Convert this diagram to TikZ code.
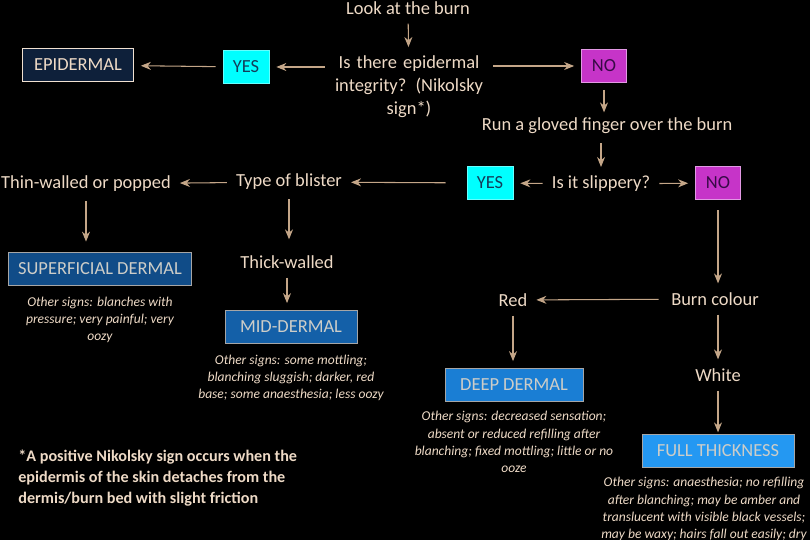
\documentclass[tikz,border=0pt]{standalone}
\usepackage{fontspec}
\setmainfont{Carlito}
\usepackage{tikz}
\usetikzlibrary{arrows.meta,positioning}
\definecolor{burnbg}{RGB}{0,0,0}
\definecolor{burntext}{RGB}{238,218,198}
\definecolor{burnarrow}{RGB}{196,166,136}
\definecolor{epifill}{RGB}{14,32,58}
\definecolor{yescyan}{RGB}{0,255,255}
\definecolor{yestext}{RGB}{20,60,90}
\definecolor{nomagenta}{RGB}{198,52,200}
\definecolor{notext}{RGB}{55,10,70}
\definecolor{superfill}{RGB}{16,76,136}
\definecolor{midfill}{RGB}{20,96,168}
\definecolor{deepfill}{RGB}{26,126,212}
\definecolor{fullfill}{RGB}{36,152,242}
\definecolor{boxtext}{RGB}{205,205,200}

\begin{document}
\begin{tikzpicture}[x=0.02cm, y=-0.02cm,
    step text/.style={text=burntext, font=\fontsize{10.5}{13}\selectfont, inner sep=1pt},
    signs/.style={text=burntext, font=\fontsize{7.7}{9.7}\selectfont\itshape, align=center},
    answer/.style={draw, minimum height=0.66cm, inner sep=2pt, font=\fontsize{10.5}{13}\selectfont},
    yesbox/.style={answer, fill=yescyan, draw=yescyan!60!white, text=yestext, minimum width=0.92cm},
    nobox/.style={answer, fill=nomagenta, draw=nomagenta!50!white, text=notext, minimum width=0.9cm},
    depth/.style={answer, draw=gray!70, text=boxtext},
    arrow/.style={-{Stealth[length=2mm, width=1.6mm]}, burnarrow, semithick, shorten <=4pt, shorten >=4pt}
]
\fill[burnbg] (0,0) rectangle (810,540);
\useasboundingbox (0,0) rectangle (810,540);

% First question
\node[step text] (look) at (408,8) {Look at the burn};
\node[step text, align=center, text width=3cm] (integrity) at (409,87) {Is there epidermal\\integrity? (Nikolsky\\sign*)};
\node[yesbox] (yes1) at (246,67) {YES};
\node[depth, fill=epifill, draw=burntext!80, text=burntext, minimum width=2.22cm] (epi) at (78,65) {EPIDERMAL};
\node[nobox] (no1) at (604,66) {NO};

\draw[arrow] (look) -- (integrity);
\draw[arrow] (integrity.west |- yes1) -- (yes1);
\draw[arrow] (yes1) -- (epi);
\draw[arrow] (integrity.east |- no1) -- (no1);

% Slippery test
\node[step text] (glove) at (607,126) {Run a gloved finger over the burn};
\node[step text] (slippery) at (601,184) {Is it slippery?};
\node[yesbox] (yes2) at (490,183) {YES};
\node[nobox] (no2) at (718,183) {NO};

\draw[arrow, shorten >=2pt] (no1) -- (no1 |- glove.north);
\draw[arrow] (glove.south -| slippery) -- (slippery);
\draw[arrow] (slippery) -- (yes2);
\draw[arrow] (slippery) -- (no2);

% Blister branch
\node[step text] (blister) at (289,182) {Type of blister};
\node[step text] (thin) at (86,184) {Thin-walled or popped};
\node[step text] (thick) at (287,262) {Thick-walled};
\node[depth, fill=superfill, minimum width=3.66cm] (superficial) at (100,269) {SUPERFICIAL DERMAL};
\node[depth, fill=midfill, minimum width=2.64cm] (mid) at (291,327) {MID-DERMAL};

\draw[arrow, shorten <=12pt] (yes2) -- (blister);
\draw[arrow] (blister) -- (thin);
\draw[arrow, shorten >=6pt] (thin) -- (thin |- superficial.north);
\draw[arrow, shorten >=8pt] (blister) -- (blister |- thick.north);
\draw[arrow] (thick) -- (thick |- mid.north);

\node[signs, below=3pt of superficial] (supersigns) {Other signs: blanches with\\pressure; very painful; very\\oozy};
\node[signs, below=3pt of mid] (midsigns) {Other signs: some mottling;\\blanching sluggish; darker, red\\base; some anaesthesia; less oozy};

% Colour branch
\node[step text] (colour) at (715,299) {Burn colour};
\node[step text] (red) at (513,300) {Red};
\node[step text] (white) at (718,375) {White};
\node[depth, fill=deepfill, minimum width=2.76cm] (deep) at (514,385) {DEEP DERMAL};
\node[depth, fill=fullfill, minimum width=3.04cm] (full) at (718,451) {FULL THICKNESS};

\draw[arrow, shorten <=6pt] (no2) -- (no2 |- colour.north);
\draw[arrow, shorten <=6pt] (colour) -- (red);
\draw[arrow] (red) -- (red |- deep.north);
\draw[arrow] (colour.south -| white) -- (white);
\draw[arrow, shorten >=1pt] (white) -- (full);

\node[signs, below=2pt of deep] (deepsigns) {Other signs: decreased sensation;\\absent or reduced refilling after\\blanching; fixed mottling; little or no\\ooze};
\node[signs, below=2pt of full, xshift=-0.28cm] (fullsigns) {Other signs: anaesthesia; no refilling\\after blanching; may be amber and\\translucent with visible black vessels;\\may be waxy; hairs fall out easily; dry};

% Footnote
\node[text=burntext, font=\fontsize{9.2}{11.9}\selectfont\bfseries, align=left, anchor=north west, inner sep=0pt] (footnote) at (18,450) {*A positive Nikolsky sign occurs when the\\epidermis of the skin detaches from the\\dermis/burn bed with slight friction};

\end{tikzpicture}
\end{document}
